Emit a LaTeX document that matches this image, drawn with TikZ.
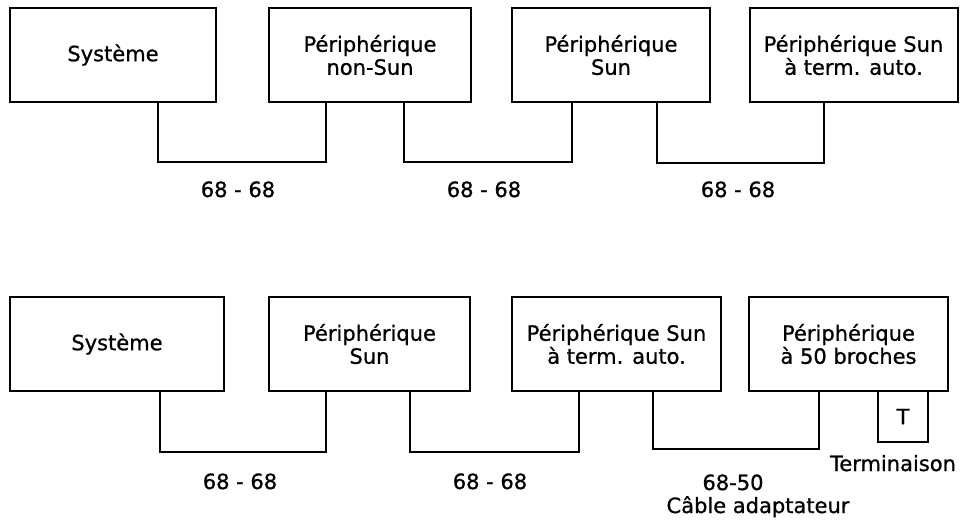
\documentclass[tikz,border=0pt]{standalone}
\usepackage{fontspec}
\setmainfont{DejaVu Sans}[FakeBold=0.9]
\newcommand{\lblfont}{\fontsize{21}{23}\selectfont}
\begin{document}
\begin{tikzpicture}[x=1pt,y=-1pt,
  box/.style={draw, line width=2pt, inner sep=0pt, outer sep=0pt,
    align=center, font=\lblfont, minimum height=94pt},
  wire/.style={line width=2pt},
  lbl/.style={font=\lblfont, inner sep=0pt, anchor=base}]
\useasboundingbox (0,0) rectangle (960,520);

% ---- first chain: all 68-pin devices
\node[box, minimum width=206pt] (a1) at (113,55) {Système};
\node[box, minimum width=202pt] (a2) at (370,55) {Périphérique\\non-Sun};
\node[box, minimum width=198pt] (a3) at (611,55) {Périphérique\\Sun};
\node[box, minimum width=208pt] (a4) at (853.5,55) {Périphérique Sun\\à term. auto.};

\draw[wire] ([xshift=45pt]a1.south) -- ([xshift=45pt]a1.south |- 0,162)
  -| ([xshift=-44pt]a2.south);
\draw[wire] ([xshift=34pt]a2.south) -- ([xshift=34pt]a2.south |- 0,162)
  -| ([xshift=-39pt]a3.south);
\draw[wire] ([xshift=46pt]a3.south) -- ([xshift=46pt]a3.south |- 0,163)
  -| ([xshift=-29.5pt]a4.south);

\node[lbl] (la1) at (238,197) {68 - 68};
\node[lbl] (la2) at (484,197) {68 - 68};
\node[lbl] (la3) at (738,197) {68 - 68};

% ---- second chain: ending on a 50-pin device
\node[box, minimum width=214pt] (b1) at (117,344) {Système};
\node[box, minimum width=201pt] (b2) at (369.5,344) {Périphérique\\Sun};
\node[box, minimum width=209pt] (b3) at (616.5,344) {Périphérique Sun\\à term. auto.};
\node[box, minimum width=199pt] (b4) at (848.5,344) {Périphérique\\à 50 broches};
\node[box, minimum width=50pt, minimum height=51pt, anchor=north] (t) at (903,391) {};
\node[font=\lblfont, inner sep=0pt] (tl) at (t.center) {T};

\draw[wire] ([xshift=43pt]b1.south) -- ([xshift=43pt]b1.south |- 0,452)
  -| ([xshift=-43.5pt]b2.south);
\draw[wire] ([xshift=40.5pt]b2.south) -- ([xshift=40.5pt]b2.south |- 0,452)
  -| ([xshift=-37.5pt]b3.south);
\draw[wire] ([xshift=36.5pt]b3.south) -- ([xshift=36.5pt]b3.south |- 0,449)
  -| ([xshift=-29.5pt]b4.south);

\node[lbl] (lb1) at (240,489) {68 - 68};
\node[lbl] (lb2) at (490,489) {68 - 68};
\node[lbl] (lb3) at (733,490) {68-50};
\node[lbl] (lb4) at (758,513) {Câble adaptateur};
\node[lbl] (lb5) at (893,471) {Terminaison};
\end{tikzpicture}
\end{document}
